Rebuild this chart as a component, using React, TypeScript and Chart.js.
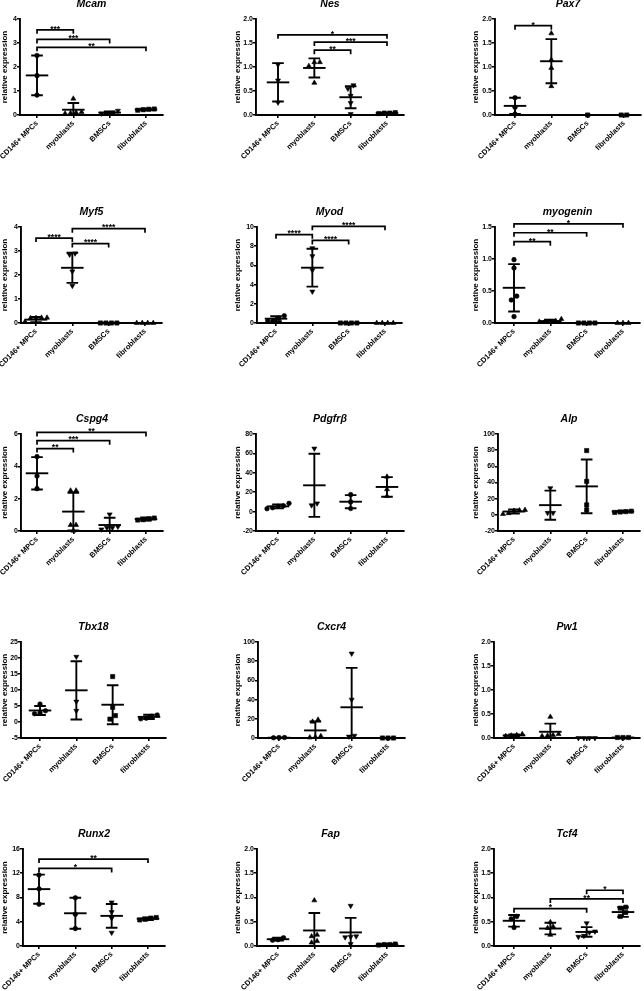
import React, { useEffect, useRef } from 'react';
import { Chart, registerables } from 'chart.js';

Chart.register(...registerables);
Chart.defaults.font.family = "'Liberation Sans', Arial, sans-serif";
Chart.defaults.color = '#000';

// ---------- data ----------
const CATEGORIES = ['CD146+ MPCs', 'myoblasts', 'BMSCs', 'fibroblasts'];
const GENES = ['Mcam', 'Nes', 'Pax7', 'Myf5', 'Myod', 'myogenin', 'Cspg4', 'Pdgfrβ', 'Alp', 'Tbx18', 'Cxcr4', 'Pw1', 'Runx2', 'Fap', 'Tcf4'];

type Sig = [number, number, number, string];

const mcamPoints = [[2.48, 1.64, 0.83], [0.68, 0.12, 0.08, 0.1, 0.06], [0.06, 0.08, 0.1, 0.18], [0.22, 0.25, 0.24, 0.2]];
const mcamMean = [1.65, 0.22, 0.1, 0.23];
const mcamSD = [0.83, 0.28, 0.05, 0.03];
const mcamSig: Sig[] = [[0, 1, 3.55, '***'], [0, 2, 3.15, '***'], [0, 3, 2.82, '**']];
const mcamTicks = [0, 1, 2, 3, 4];

const nesPoints = [[1.05, 0.72, 0.26], [1.1, 1.1, 1.02, 0.67], [0.62, 0.55, 0.4, 0.25, 0.02], [0.04, 0.03, 0.05, 0.04]];
const nesMean = [0.68, 0.98, 0.37, 0.04];
const nesSD = [0.4, 0.2, 0.23, 0.01];
const nesSig: Sig[] = [[0, 3, 1.67, '*'], [1, 3, 1.52, '***'], [1, 2, 1.35, '**']];
const nesTicks = [0, 0.5, 1, 1.5, 2];

const pax7Points = [[0.36, 0.16, 0.02], [1.7, 1.15, 0.98, 0.6], [0], [0, 0]];
const pax7Mean = [0.19, 1.12, 0, 0];
const pax7SD = [0.17, 0.46, 0, 0];
const pax7Sig: Sig[] = [[0, 1, 1.86, '*']];
const pax7Ticks = [0, 0.5, 1, 1.5, 2];

const myf5Points = [[0.22, 0.2, 0.05, 0.22, 0.21], [2.9, 2.85, 2.15, 1.55], [0, 0, 0, 0], [0, 0, 0, 0]];
const myf5Mean = [0.14, 2.3, 0, 0];
const myf5SD = [0.11, 0.63, 0, 0];
const myf5Sig: Sig[] = [[0, 1, 3.54, '****'], [1, 3, 3.93, '****'], [1, 2, 3.31, '****']];
const myf5Ticks = [0, 1, 2, 3, 4];

const myodPoints = [[0.76, 0.5, 0.27, 0.2], [7.8, 6.97, 5.5, 3.28], [0, 0, 0, 0], [0, 0, 0, 0]];
const myodMean = [0.45, 5.76, 0, 0];
const myodSD = [0.25, 1.97, 0, 0];
const myodSig: Sig[] = [[0, 1, 9.2, '****'], [1, 3, 10.07, '****'], [1, 2, 8.6, '****']];
const myodTicks = [0, 2, 4, 6, 8, 10];

const myogeninPoints = [[0.99, 0.86, 0.42, 0.36, 0.1], [0.02, 0.02, 0.02, 0.03, 0.06], [0, 0, 0, 0], [0, 0, 0]];
const myogeninMean = [0.55, 0.03, 0, 0];
const myogeninSD = [0.37, 0.02, 0, 0];
const myogeninSig: Sig[] = [[0, 3, 1.55, '*'], [0, 2, 1.41, '**'], [0, 1, 1.27, '**']];
const myogeninTicks = [0, 0.5, 1, 1.5];

const cspg4Points = [[4.6, 3.4, 2.62], [2.5, 2.5, 0.37, 0.37, 0.02], [1.03, 0.27, 0.2, 0.2, 0.1], [0.8, 0.75, 0.7, 0.68]];
const cspg4Mean = [3.57, 1.2, 0.37, 0.74];
const cspg4SD = [1.0, 1.17, 0.45, 0.1];
const cspg4Sig: Sig[] = [[0, 3, 6.1, '**'], [0, 2, 5.59, '***'], [0, 1, 5.1, '**']];
const cspg4Ticks = [0, 2, 4, 6];

const pdgfrbPoints = [[8.5, 4, 3, 5.5, 6], [65, 8.5, 6.5], [17.5, 10, 3.2], [36, 23, 16]];
const pdgfrbMean = [5.4, 27.1, 10.2, 25.4];
const pdgfrbSD = [2.1, 32.5, 6.8, 10.1];
const pdgfrbSig: Sig[] = [];
const pdgfrbTicks = [-20, 0, 20, 40, 60, 80];

const alpPoints = [[6, 5.5, 2, 1, 5], [33, 2.5, 2.5], [79.5, 41.4, 12.3, 6.1], [4.5, 3.5, 4, 3]];
const alpMean = [4.1, 12, 35.2, 4.1];
const alpSD = [2.5, 18, 33.3, 1];
const alpSig: Sig[] = [];
const alpTicks = [-20, 0, 20, 40, 60, 80, 100];

const tbx18Points = [[5.6, 3.5, 2.6, 2.8], [20.4, 6.4, 3.5], [14.2, 4.6, 2.0, 0.9], [2.2, 1.8, 1.2, 1.0]];
const tbx18Mean = [3.6, 9.9, 5.4, 1.6];
const tbx18SD = [1.4, 9.1, 6.1, 0.65];
const tbx18Sig: Sig[] = [];
const tbx18Ticks = [-5, 0, 5, 10, 15, 20, 25];

const cxcr4Points = [[0.4, 0.3, 0.5], [19, 17, 2, 1, 0.5], [88, 40, 2.4, 1.5], [0, 0, 0]];
const cxcr4Mean = [0.3, 7.9, 32, 0];
const cxcr4SD = [0.1, 9.3, 41, 0];
const cxcr4Sig: Sig[] = [];
const cxcr4Ticks = [0, 20, 40, 60, 80, 100];

const pw1Points = [[0.08, 0.06, 0.05, 0.04], [0.44, 0.08, 0.05, 0.06, 0.04], [0, 0, 0, 0], [0.01, 0.01, 0.01]];
const pw1Mean = [0.055, 0.13, 0, 0.01];
const pw1SD = [0.02, 0.17, 0, 0];
const pw1Sig: Sig[] = [];
const pw1Ticks = [0, 0.5, 1, 1.5, 2];

const runx2Points = [[11.7, 9.43, 6.9], [7.95, 5.24, 2.87], [7.2, 5.6, 4.6, 2.2], [4.7, 4.6, 4.4, 4.3]];
const runx2Mean = [9.38, 5.4, 4.97, 4.5];
const runx2SD = [2.4, 2.55, 1.95, 0.2];
const runx2Sig: Sig[] = [[0, 3, 14.34, '**'], [0, 2, 12.8, '*']];
const runx2Ticks = [0, 4, 8, 12, 16];

const fapPoints = [[0.17, 0.13, 0.12], [0.94, 0.23, 0.2, 0.1, 0.07], [0.83, 0.2, 0.18, 0.19, 0.04], [0.03, 0.03, 0.02, 0.04]];
const fapMean = [0.14, 0.32, 0.28, 0.03];
const fapSD = [0.03, 0.36, 0.3, 0.01];
const fapSig: Sig[] = [];
const fapTicks = [0, 0.5, 1, 1.5, 2];

const tcf4Points = [[0.61, 0.56, 0.38], [0.49, 0.4, 0.37, 0.23], [0.47, 0.3, 0.28, 0.21, 0.19], [0.8, 0.78, 0.69, 0.61]];
const tcf4Mean = [0.52, 0.36, 0.29, 0.7];
const tcf4SD = [0.12, 0.12, 0.1, 0.1];
const tcf4Sig: Sig[] = [[0, 2, 0.77, '*'], [1, 3, 0.97, '**'], [2, 3, 1.15, '*']];
const tcf4Ticks = [0, 0.5, 1, 1.5, 2];

const PANELS = [
  { points: mcamPoints, mean: mcamMean, sd: mcamSD, sig: mcamSig, ticks: mcamTicks },
  { points: nesPoints, mean: nesMean, sd: nesSD, sig: nesSig, ticks: nesTicks },
  { points: pax7Points, mean: pax7Mean, sd: pax7SD, sig: pax7Sig, ticks: pax7Ticks },
  { points: myf5Points, mean: myf5Mean, sd: myf5SD, sig: myf5Sig, ticks: myf5Ticks },
  { points: myodPoints, mean: myodMean, sd: myodSD, sig: myodSig, ticks: myodTicks },
  { points: myogeninPoints, mean: myogeninMean, sd: myogeninSD, sig: myogeninSig, ticks: myogeninTicks },
  { points: cspg4Points, mean: cspg4Mean, sd: cspg4SD, sig: cspg4Sig, ticks: cspg4Ticks },
  { points: pdgfrbPoints, mean: pdgfrbMean, sd: pdgfrbSD, sig: pdgfrbSig, ticks: pdgfrbTicks },
  { points: alpPoints, mean: alpMean, sd: alpSD, sig: alpSig, ticks: alpTicks },
  { points: tbx18Points, mean: tbx18Mean, sd: tbx18SD, sig: tbx18Sig, ticks: tbx18Ticks },
  { points: cxcr4Points, mean: cxcr4Mean, sd: cxcr4SD, sig: cxcr4Sig, ticks: cxcr4Ticks },
  { points: pw1Points, mean: pw1Mean, sd: pw1SD, sig: pw1Sig, ticks: pw1Ticks },
  { points: runx2Points, mean: runx2Mean, sd: runx2SD, sig: runx2Sig, ticks: runx2Ticks },
  { points: fapPoints, mean: fapMean, sd: fapSD, sig: fapSig, ticks: fapTicks },
  { points: tcf4Points, mean: tcf4Mean, sd: tcf4SD, sig: tcf4Sig, ticks: tcf4Ticks },
];

// ---------- styles ----------
const MARKERS = [
  ['circle', 'triangle', 'tridown', 'rect'],
  ['tridown', 'triangle', 'tridown', 'rect'],
  ['circle', 'triangle', 'rect', 'rect'],
  ['triangle', 'tridown', 'rect', 'triangle'],
  ['circle', 'tridown', 'rect', 'triangle'],
  ['circle', 'triangle', 'rect', 'triangle'],
  ['circle', 'triangle', 'tridown', 'rect'],
  ['circle', 'tridown', 'circle', 'triangle'],
  ['triangle', 'tridown', 'rect', 'rect'],
  ['circle', 'tridown', 'rect', 'circle'],
  ['circle', 'triangle', 'tridown', 'rect'],
  ['triangle', 'triangle', 'tridown', 'rect'],
  ['circle', 'circle', 'tridown', 'rect'],
  ['circle', 'triangle', 'tridown', 'rect'],
  ['circle', 'triangle', 'tridown', 'rect'],
];

// ---------- layout ----------
const AXIS_X = [20, 256, 495, 21, 257, 495, 21, 256, 498, 21, 258, 494, 23, 257, 494];
const CAT0_X = [37, 278, 515, 36, 276, 514, 37, 278, 514, 40, 279, 514, 39, 278, 514];
const ROW_TOP = [19, 227, 434, 642, 849];
const ROW_H = [96, 96, 97, 96, 97];
const YTITLE_X = [5, 238, 476];
const SPACING = 36.3;
const TAIL = 17;
const PAD_L = 34;
const PAD_T = 26;
const PAD_R = 10;
const PAD_B = 62;
const FONT = "'Liberation Sans', Arial, sans-serif";

function jitter(vals: number[], thr: number, step: number): number[] {
  const idx = vals.map((_, i) => i).sort((a, b) => vals[a] - vals[b]);
  const offs = new Array(vals.length).fill(0);
  let start = 0;
  for (let k = 1; k <= idx.length; k++) {
    if (k === idx.length || vals[idx[k]] - vals[idx[k - 1]] > thr) {
      const n = k - start;
      for (let j = 0; j < n; j++) offs[idx[start + j]] = (j - (n - 1) / 2) * step;
      start = k;
    }
  }
  return offs;
}

function Panel({ i }: { i: number }) {
  const ref = useRef<HTMLCanvasElement>(null);
  const p = PANELS[i];
  const col = i % 3;
  const row = Math.floor(i / 3);
  const axisX = AXIS_X[i];
  const xMin = -(CAT0_X[i] - axisX) / SPACING;
  const xMax = 3 + TAIL / SPACING;
  const plotW = Math.round((xMax - xMin) * SPACING);
  const plotH = ROW_H[row];
  const W = PAD_L + plotW + PAD_R;
  const H = PAD_T + plotH + PAD_B;
  const left = axisX - PAD_L;
  const top = ROW_TOP[row] - PAD_T;

  useEffect(() => {
    if (!ref.current) return;
    const ticks = p.ticks;
    const yMin = ticks[0];
    const yMax = ticks[ticks.length - 1];
    const step = ticks[1] - ticks[0];
    const thr = (4.2 * (yMax - yMin)) / plotH;
    const jStep = 5.5 / SPACING;

    const datasets = CATEGORIES.map((c, g) => {
      const offs = jitter(p.points[g], thr, jStep);
      const m = MARKERS[i][g];
      return {
        label: c,
        data: p.points[g].map((v, k) => ({ x: g + offs[k], y: v })),
        pointStyle: m === 'tridown' ? 'triangle' : m,
        pointRotation: m === 'tridown' ? 180 : 0,
        pointRadius: m === 'circle' ? 2.3 : m === 'rect' ? 3.0 : 2.9,
        backgroundColor: '#000',
        borderColor: '#000',
        borderWidth: 0.6,
        showLine: false,
        clip: false as any,
      };
    });

    const overlay = {
      id: 'overlay' + i,
      beforeDatasetsDraw(chart: any) {
        const { ctx } = chart;
        const xs = chart.scales.x;
        const ys = chart.scales.y;
        ctx.save();
        ctx.strokeStyle = '#000';
        ctx.lineWidth = 1.9;
        for (let g = 0; g < 4; g++) {
          const x = xs.getPixelForValue(g);
          const halfMean = xs.getPixelForValue(g + 0.31) - x;
          const halfCap = xs.getPixelForValue(g + 0.16) - x;
          const m = p.mean[g];
          const s = p.sd[g];
          const ym = ys.getPixelForValue(m);
          ctx.beginPath();
          ctx.moveTo(x - halfMean, ym);
          ctx.lineTo(x + halfMean, ym);
          ctx.stroke();
          if (s > 0) {
            const hi = Math.min(m + s, yMax);
            const lo = Math.max(m - s, yMin);
            const yh = ys.getPixelForValue(hi);
            const yl = ys.getPixelForValue(lo);
            ctx.beginPath();
            ctx.moveTo(x, yh);
            ctx.lineTo(x, yl);
            if (m + s <= yMax) {
              ctx.moveTo(x - halfCap, yh);
              ctx.lineTo(x + halfCap, yh);
            }
            if (m - s >= yMin) {
              ctx.moveTo(x - halfCap, yl);
              ctx.lineTo(x + halfCap, yl);
            }
            ctx.stroke();
          }
        }
        ctx.restore();
      },
      afterDraw(chart: any) {
        const { ctx, chartArea } = chart;
        const xs = chart.scales.x;
        const ys = chart.scales.y;
        ctx.save();
        ctx.strokeStyle = '#000';
        ctx.fillStyle = '#000';
        ctx.lineWidth = 1.7;
        // significance brackets
        for (const [a, b, v, label] of p.sig) {
          const x1 = xs.getPixelForValue(a);
          const x2 = xs.getPixelForValue(b);
          const y = ys.getPixelForValue(v);
          ctx.beginPath();
          ctx.moveTo(x1, y + 4);
          ctx.lineTo(x1, y);
          ctx.lineTo(x2, y);
          ctx.lineTo(x2, y + 4);
          ctx.stroke();
          ctx.font = `bold 8.5px ${FONT}`;
          ctx.textAlign = 'center';
          ctx.textBaseline = 'alphabetic';
          ctx.fillText(label, (x1 + x2) / 2, y + 1.8);
        }
        // title
        ctx.font = `italic bold 10.5px ${FONT}`;
        ctx.textAlign = 'center';
        ctx.textBaseline = 'middle';
        ctx.fillText(GENES[i], (chartArea.left + chartArea.right) / 2, chartArea.top - 15);
        // y title
        ctx.translate(YTITLE_X[col] - left, (chartArea.top + chartArea.bottom) / 2);
        ctx.rotate(-Math.PI / 2);
        ctx.font = `bold 8px ${FONT}`;
        ctx.fillText('relative expression', 0, 0);
        ctx.restore();
      },
    };

    const xFont = { family: FONT, weight: 'bold' as const, size: 7.5 };
    const yFont = { family: FONT, weight: 'bold' as const, size: 7 };
    const gridOpts = { display: true, drawOnChartArea: false, drawTicks: true, tickLength: 3, color: '#000', lineWidth: 1.6 };
    const borderOpts = { display: true, color: '#000', width: 1.9 };

    const chart = new Chart(ref.current, {
      type: 'scatter',
      data: { datasets: datasets as any },
      options: {
        animation: false,
        responsive: false,
        devicePixelRatio: 1,
        layout: { padding: { left: 0, top: PAD_T, right: PAD_R, bottom: 0 } },
        plugins: { legend: { display: false }, tooltip: { enabled: false } },
        scales: {
          x: {
            type: 'linear',
            min: xMin,
            max: xMax,
            afterBuildTicks: (s: any) => {
              s.ticks = CATEGORIES.map((_, g) => ({ value: g }));
            },
            afterFit: (s: any) => {
              s.height = PAD_B;
              s.paddingLeft = 0;
              s.paddingRight = 0;
            },
            ticks: {
              callback: (v: any) => CATEGORIES[Math.round(v)],
              minRotation: 45,
              maxRotation: 45,
              autoSkip: false,
              font: xFont,
              color: '#000',
              padding: 1,
            },
            grid: gridOpts,
            border: borderOpts,
          },
          y: {
            type: 'linear',
            min: yMin,
            max: yMax,
            afterBuildTicks: (s: any) => {
              s.ticks = ticks.map((v) => ({ value: v }));
            },
            afterFit: (s: any) => {
              s.width = PAD_L;
              s.paddingTop = 0;
              s.paddingBottom = 0;
            },
            ticks: {
              callback: (v: any) => (step < 1 ? Number(v).toFixed(1) : String(v)),
              font: yFont,
              color: '#000',
              padding: 0,
            },
            grid: gridOpts,
            border: borderOpts,
          },
        },
      } as any,
      plugins: [overlay],
    });
    return () => chart.destroy();
  }, [i]);

  return (
    <canvas
      ref={ref}
      width={W}
      height={H}
      style={{ position: 'absolute', left, top, width: W, height: H }}
    />
  );
}

export default function App() {
  return (
    <div
      style={{
        position: 'absolute',
        left: 0,
        top: 0,
        width: 644,
        height: 991,
        overflow: 'hidden',
        background: '#fff',
      }}
    >
      {GENES.map((_, i) => (
        <Panel key={i} i={i} />
      ))}
    </div>
  );
}
